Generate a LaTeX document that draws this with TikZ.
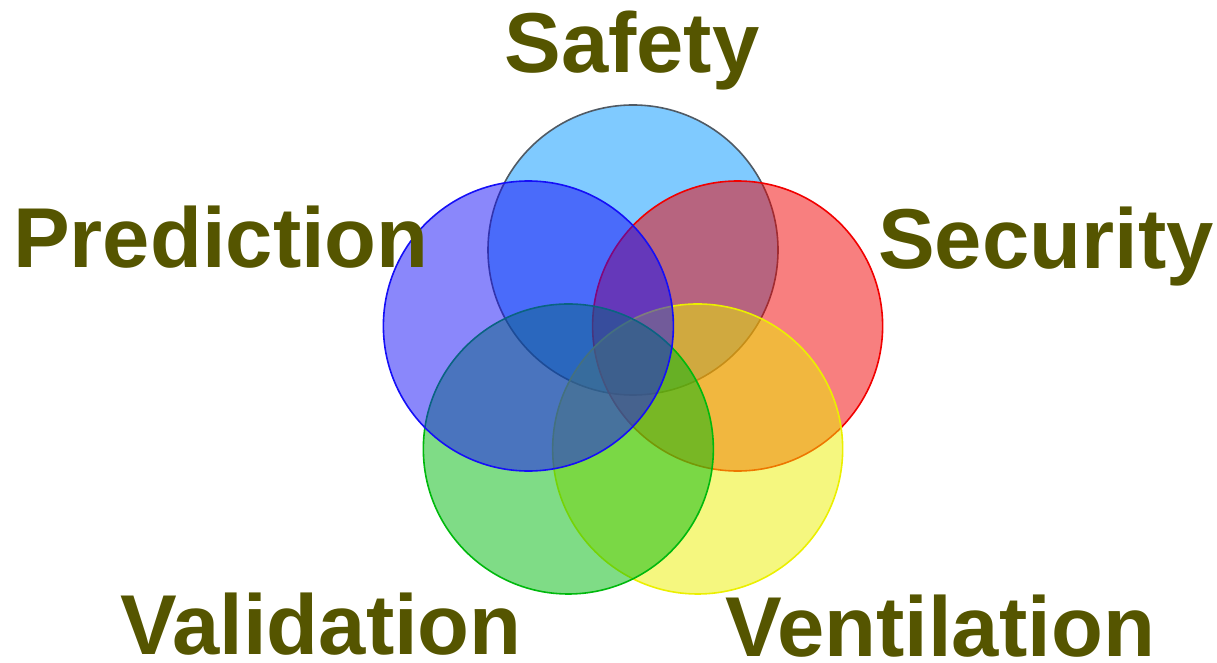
\documentclass[tikz,border=0pt]{standalone}
\usepackage{fontspec}
\setmainfont{Liberation Sans}
\definecolor{olive}{RGB}{85,85,0}
\definecolor{safetyblue}{RGB}{0,149,255}
\definecolor{secred}{RGB}{241,0,0}
\definecolor{ventyellow}{RGB}{235,239,0}
\definecolor{valgreen}{RGB}{0,185,13}
\definecolor{predblue}{RGB}{21,15,247}

\begin{document}
\begin{tikzpicture}[x=1pt,y=1pt,
  ring/.style={line width=1.6pt,fill opacity=.5},
  word/.style={anchor=base,text=olive,inner sep=0pt,font=\fontsize{85}{85}\selectfont\bfseries}]
\useasboundingbox (0,0) rectangle (1217,663);
\coordinate (mid) at (633,303);
% five rings round the middle, drawn in this order
\draw[ring,draw={rgb,255:red,80;green,90;blue,100},fill=safetyblue] (mid) ++(90:110) circle (145);
\draw[ring,draw=secred,fill=secred] (mid) ++(18:110) circle (145);
\draw[ring,draw=ventyellow,fill=ventyellow] (mid) ++(-54:110) circle (145);
\draw[ring,draw=valgreen,fill=valgreen] (mid) ++(-126:110) circle (145);
\draw[ring,draw=predblue,fill=predblue] (mid) ++(162:110) circle (145);

\node[word] (safety) at (632,590) {Safety};
\node[word] (security) at (1046,394) {Security};
\node[word] (prediction) at (221,395) {Prediction};
\node[word,text depth=0pt] (validation) at (321,8) {Validation};
\node[word,text depth=0pt] (ventilation) at (940,6) {Ventilation};
\end{tikzpicture}
\end{document}
